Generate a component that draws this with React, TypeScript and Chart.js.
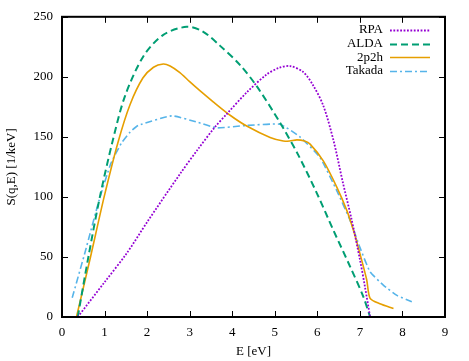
import React, { useEffect, useRef } from "react";
import { Chart, registerables } from "chart.js";

Chart.register(...registerables);

// ---- Data (E in eV, S in 1/keV) ----
const rpaE = [0.37, 1.0, 1.52, 2.0, 2.77, 3.2, 3.59, 3.87, 4.34, 4.81, 5.1, 5.36, 5.67, 5.9, 6.14, 6.38, 6.6, 6.8, 7.0, 7.12, 7.24];
const rpaS = [0, 29, 53, 79, 119, 140, 158, 169, 187, 202, 207.5, 209, 204, 193, 176, 147, 112, 82, 48, 25, 0];

const aldaE = [0.37, 0.62, 0.89, 1.2, 1.48, 1.91, 2.38, 2.93, 3.3, 3.71, 4.18, 4.58, 5.12, 5.55, 5.99, 6.38, 6.77, 7.08, 7.24];
const aldaS = [0, 50, 100, 148, 184, 217, 235, 241.7, 238, 226, 210, 192, 162, 135, 103, 72, 42, 17, 0];

const p2hE = [0.34, 0.67, 0.99, 1.32, 1.6, 1.9, 2.15, 2.38, 2.54, 2.77, 3.0, 3.24, 3.56, 3.95, 4.34, 4.89, 5.2, 5.35, 5.52, 5.7, 5.83, 6.14, 6.46, 6.69, 6.85, 7.0, 7.16, 7.24, 7.47, 7.79];
const p2hS = [0, 50, 100, 146, 177, 199, 208, 210.7, 209, 203.5, 196, 188.5, 179, 168, 159, 149.5, 146.5, 146.6, 147.5, 146.5, 144, 130, 108, 89, 72, 53, 31, 15.5, 11, 7];

const takE = [0.24, 0.55, 0.87, 1.15, 1.4, 1.6, 1.79, 2.58, 3.2, 3.63, 4.34, 5.12, 5.59, 6.06, 6.46, 6.77, 7.0, 7.24, 7.55, 7.87, 8.22];
const takS = [16, 55, 97, 128, 145, 154, 159.5, 167.5, 162, 157.5, 159.5, 160.5, 150, 133, 105, 80.5, 58, 37.6, 26.6, 18, 12.7];

const seriesNames = ["RPA", "ALDA", "2p2h", "Takada"];
const xTicks = [0, 1, 2, 3, 4, 5, 6, 7, 8, 9];
const yTicks = [0, 50, 100, 150, 200, 250];

const FONT = '"Liberation Serif", "Times New Roman", serif';

const styles = [
  { color: "#9400d3", dash: [1.8, 1.6], width: 1.8, tension: 0.3 },
  { color: "#009e73", dash: [7, 4], width: 2, tension: 0.3 },
  { color: "#e69f00", dash: [] as number[], width: 1.6, tension: 0.25 },
  { color: "#56b4e9", dash: [7, 3, 2, 3], width: 1.6, tension: 0.15 },
];

export default function App() {
  const ref = useRef<HTMLCanvasElement>(null);

  useEffect(() => {
    const toPts = (xs: number[], ys: number[]) => xs.map((x, i) => ({ x, y: ys[i] }));
    const sets = [toPts(rpaE, rpaS), toPts(aldaE, aldaS), toPts(p2hE, p2hS), toPts(takE, takS)];

    const framePlugin = {
      id: "gnuframe",
      afterDraw(chart: any) {
        const ctx = chart.ctx as CanvasRenderingContext2D;
        const { left, right, top, bottom } = chart.chartArea;
        const xs = chart.scales.x;
        const ys = chart.scales.y;
        ctx.save();
        ctx.strokeStyle = "#000";
        ctx.lineWidth = 1;
        ctx.setLineDash([]);
        const tl = 6;
        ctx.beginPath();
        xTicks.forEach((v) => {
          const px = Math.round(xs.getPixelForValue(v)) + 0.5;
          ctx.moveTo(px, bottom);
          ctx.lineTo(px, bottom - tl);
          ctx.moveTo(px, top);
          ctx.lineTo(px, top + tl);
        });
        yTicks.forEach((v) => {
          const py = Math.round(ys.getPixelForValue(v)) + 0.5;
          ctx.moveTo(left, py);
          ctx.lineTo(left + tl, py);
          ctx.moveTo(right, py);
          ctx.lineTo(right - tl, py);
        });
        ctx.stroke();
        ctx.lineWidth = 2;
        ctx.strokeRect(left, top, right - left, bottom - top);

        // legend
        ctx.font = `13px ${FONT}`;
        ctx.textAlign = "right";
        ctx.textBaseline = "middle";
        const rowY0 = top + 13;
        const rowH = 13.7;
        const textX = right - 62;
        const lineX0 = right - 55;
        const lineX1 = right - 15;
        seriesNames.forEach((name, i) => {
          const y = rowY0 + i * rowH;
          ctx.fillStyle = "#000";
          ctx.fillText(name, textX, y);
          const st = styles[i];
          ctx.strokeStyle = st.color;
          ctx.lineWidth = st.width;
          ctx.setLineDash(st.dash);
          ctx.beginPath();
          ctx.moveTo(lineX0, Math.round(y) + 0.5);
          ctx.lineTo(lineX1, Math.round(y) + 0.5);
          ctx.stroke();
        });
        ctx.restore();
      },
    };

    const chart = new Chart(ref.current as HTMLCanvasElement, {
      type: "line",
      data: {
        datasets: sets.map((d, i) => ({
          label: seriesNames[i],
          data: d,
          borderColor: styles[i].color,
          backgroundColor: styles[i].color,
          borderWidth: styles[i].width,
          borderDash: styles[i].dash,
          pointRadius: 0,
          fill: false,
          tension: styles[i].tension,
        })),
      },
      options: {
        animation: false,
        responsive: false,
        devicePixelRatio: 1,
        layout: { padding: { top: 16, right: 24, left: 0, bottom: 0 } },
        plugins: { legend: { display: false }, tooltip: { enabled: false } },
        scales: {
          x: {
            type: "linear",
            min: 0,
            max: 9,
            afterFit: (s: any) => {
              s.height = 44;
            },
            afterBuildTicks: (s: any) => {
              s.ticks = xTicks.map((v) => ({ value: v }));
            },
            grid: { display: false, drawTicks: false },
            border: { display: false },
            ticks: {
              color: "#000",
              font: { family: FONT, size: 13 },
              padding: 8,
              maxRotation: 0,
              autoSkip: false,
            },
            title: {
              display: true,
              text: "E [eV]",
              color: "#000",
              font: { family: FONT, size: 13 },
              padding: { top: 0, bottom: 2 },
            },
          },
          y: {
            type: "linear",
            min: 0,
            max: 250,
            afterFit: (s: any) => {
              s.width = 62;
            },
            afterBuildTicks: (s: any) => {
              s.ticks = yTicks.map((v) => ({ value: v }));
            },
            grid: { display: false, drawTicks: false },
            border: { display: false },
            ticks: {
              color: "#000",
              font: { family: FONT, size: 13 },
              padding: 9,
              autoSkip: false,
            },
            title: {
              display: true,
              text: "S(q,E) [1/keV]",
              color: "#000",
              font: { family: FONT, size: 13 },
              padding: { top: 4, bottom: 0 },
            },
          },
        },
      },
      plugins: [framePlugin],
    });
    return () => chart.destroy();
  }, []);

  return (
    <div style={{ position: "absolute", left: 0, top: 0, width: 469, height: 361, background: "#fff" }}>
      <canvas ref={ref} width={469} height={361} style={{ display: "block" }} />
    </div>
  );
}
